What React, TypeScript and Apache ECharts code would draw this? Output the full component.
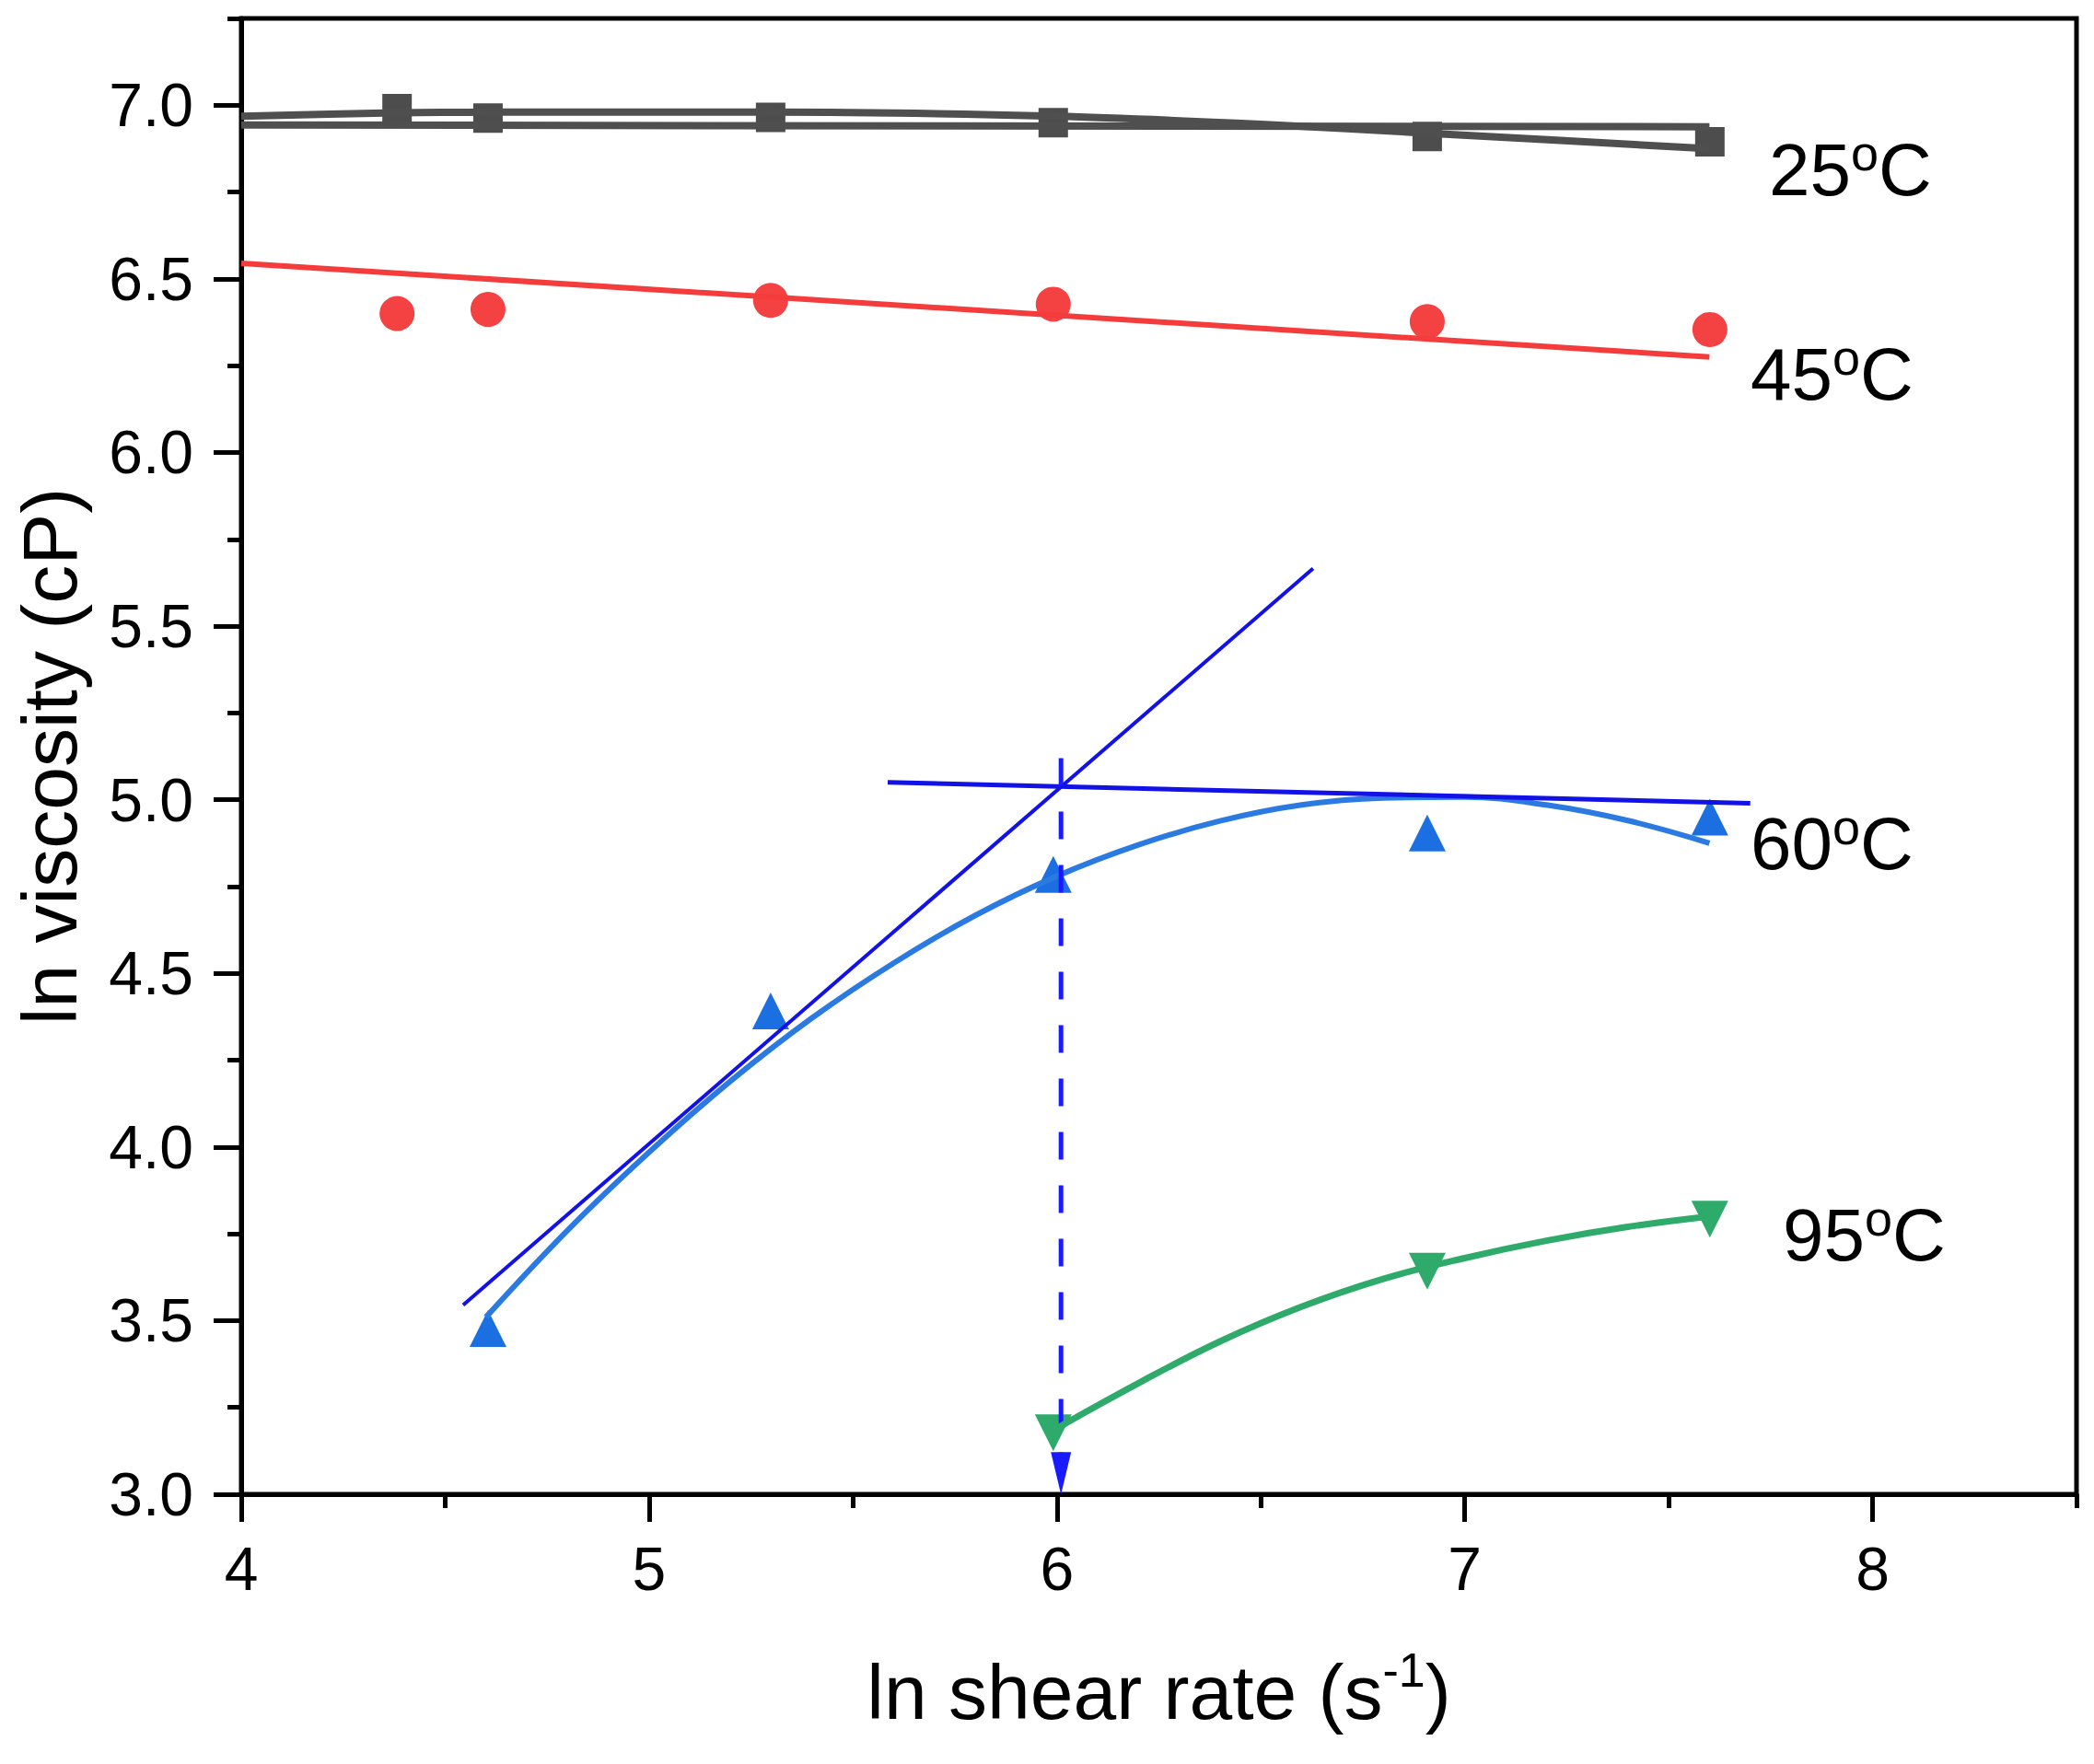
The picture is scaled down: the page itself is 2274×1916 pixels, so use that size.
import { useEffect, useRef } from 'react'
import * as echarts from 'echarts'

// measured points (ln shear rate, ln viscosity)
const shearRate = [4.382, 4.605, 5.298, 5.991, 6.908, 7.601]
const visc25 = [6.99, 6.963, 6.965, 6.95, 6.91, 6.895]
const visc45 = [6.4, 6.412, 6.438, 6.427, 6.377, 6.354]
const rate60 = [4.605, 5.298, 5.991, 6.908, 7.601]
const visc60 = [3.477, 4.392, 4.785, 4.904, 4.95]
const rate95 = [5.991, 6.908, 7.601]
const visc95 = [3.177, 3.642, 3.792]

// fitted lines
const fit25FlatX = [4.0, 7.6]
const fit25FlatY = [6.943, 6.938]
const fit25CurveX = [4.0, 4.38, 4.6, 5.3, 6.0, 6.5, 6.9, 7.6]
const fit25CurveY = [6.968, 6.978, 6.98, 6.98, 6.968, 6.945, 6.92, 6.875]
const fit45X = [4.0, 7.6]
const fit45Y = [6.545, 6.275]
const fit60X = [4.6, 4.8, 5.0, 5.2, 5.4, 5.6, 5.8, 6.0, 6.2, 6.4, 6.6, 6.8, 7.0, 7.2, 7.4, 7.6]
const fit60Y = [3.51, 3.76, 3.985, 4.19, 4.372, 4.53, 4.667, 4.78, 4.87, 4.939, 4.985, 5.005, 5.008, 4.985, 4.94, 4.875]
const fit95X = [6.0, 6.2, 6.4, 6.6, 6.8, 7.0, 7.2, 7.4, 7.6]
const fit95Y = [3.19, 3.32, 3.44, 3.54, 3.62, 3.68, 3.73, 3.77, 3.8]
const tangentLowX = [4.544, 6.628]
const tangentLowY = [3.545, 5.666]
const tangentHighX = [5.585, 7.7]
const tangentHighY = [5.05, 4.99]
const dropX = [6.01, 6.01]
const dropY = [5.12, 3.06]

const tempLabels = ['25', '45', '60', '95']

const X_MIN = 4
const X_MAX = 8.5
const Y_MIN = 3
const Y_MAX = 7.25

const W = 2274
const H = 1916
const G = { left: 262, right: 19, top: 20, bottom: 293 }

const FONT = 'Liberation Sans, Arial, sans-serif'

const zip = (xs: number[], ys: number[]) => xs.map((x, i) => [x, ys[i]])

export default function App() {
  const chartRef = useRef<HTMLDivElement | null>(null)

  useEffect(() => {
    if (!chartRef.current) {
      return
    }

    const chart = echarts.init(chartRef.current, undefined, { renderer: 'svg' })

    const unitX = (W - G.left - G.right) / (X_MAX - X_MIN)
    const unitY = (H - G.top - G.bottom) / (Y_MAX - Y_MIN)
    // second grid carries the major ticks / labels (4..8, 3..7)
    const majorGrid = {
      left: G.left,
      right: G.right + (X_MAX - 8) * unitX,
      top: G.top + (Y_MAX - 7) * unitY,
      bottom: G.bottom,
    }

    const black = { color: '#000', width: 5 }

    const labelPos = [
      [1921, 184],
      [1901, 406],
      [1901, 916],
      [1936, 1341],
    ]

    chart.setOption({
      animation: false,
      grid: [
        { ...G, show: true, borderColor: '#000', borderWidth: 5 },
        { ...majorGrid },
      ],
      xAxis: [
        {
          type: 'value',
          gridIndex: 0,
          min: X_MIN,
          max: X_MAX,
          interval: 0.5,
          axisLine: { show: true, onZero: false, lineStyle: black },
          axisTick: { show: true, length: 15, lineStyle: black },
          axisLabel: { show: false },
          splitLine: { show: false },
          name: 'ln shear rate (s{sup|-1})',
          nameLocation: 'middle',
          nameGap: 165,
          nameTextStyle: {
            fontFamily: FONT,
            fontSize: 84,
            lineHeight: 100,
            color: '#000',
            rich: {
              sup: { fontFamily: FONT, fontSize: 52, lineHeight: 76, verticalAlign: 'top', color: '#000' },
            },
          },
        },
        {
          type: 'value',
          gridIndex: 1,
          min: 4,
          max: 8,
          interval: 1,
          axisLine: { show: false, onZero: false },
          axisTick: { show: true, length: 30, lineStyle: black },
          axisLabel: { margin: 48, fontSize: 66, fontFamily: FONT, color: '#000' },
          splitLine: { show: false },
        },
      ],
      yAxis: [
        {
          type: 'value',
          gridIndex: 0,
          min: Y_MIN,
          max: Y_MAX,
          interval: 0.25,
          axisLine: { show: true, onZero: false, lineStyle: black },
          axisTick: { show: true, length: 15, lineStyle: black },
          axisLabel: { show: false },
          splitLine: { show: false },
          name: 'ln viscosity (cP)',
          nameLocation: 'middle',
          nameGap: 166,
          nameTextStyle: { fontFamily: FONT, fontSize: 84, color: '#000' },
        },
        {
          type: 'value',
          gridIndex: 1,
          min: 3,
          max: 7,
          interval: 0.5,
          axisLine: { show: false, onZero: false },
          axisTick: { show: true, length: 30, lineStyle: black },
          axisLabel: {
            margin: 52,
            fontSize: 66,
            fontFamily: FONT,
            color: '#000',
            formatter: (v: number) => v.toFixed(1),
          },
          splitLine: { show: false },
        },
      ],
      series: [
        {
          type: 'line',
          data: zip(fit25FlatX, fit25FlatY),
          symbol: 'none',
          lineStyle: { color: '#4f4f4f', width: 8 },
        },
        {
          type: 'line',
          data: zip(fit25CurveX, fit25CurveY),
          smooth: 0.3,
          symbol: 'none',
          lineStyle: { color: '#4f4f4f', width: 8 },
        },
        {
          type: 'scatter',
          data: zip(shearRate, visc25),
          symbol: 'rect',
          symbolSize: 32,
          itemStyle: { color: '#4d4d4d', opacity: 1 },
        },
        {
          type: 'line',
          data: zip(fit45X, fit45Y),
          symbol: 'none',
          lineStyle: { color: '#f43c3c', width: 6 },
        },
        {
          type: 'scatter',
          data: zip(shearRate, visc45),
          symbol: 'circle',
          symbolSize: 38,
          itemStyle: { color: '#f44242', opacity: 1 },
        },
        {
          type: 'line',
          data: zip(fit60X, fit60Y),
          smooth: 0.4,
          symbol: 'none',
          lineStyle: { color: '#2a7ae2', width: 6 },
        },
        {
          type: 'line',
          data: zip(tangentLowX, tangentLowY),
          symbol: 'none',
          lineStyle: { color: '#1212e6', width: 4 },
        },
        {
          type: 'line',
          data: zip(tangentHighX, tangentHighY),
          symbol: 'none',
          lineStyle: { color: '#1212e6', width: 5 },
        },
        {
          type: 'line',
          data: [
            { value: [dropX[0], dropY[0]], symbol: 'none' },
            { value: [dropX[1], dropY[1]], symbol: 'triangle', symbolSize: [22, 46], symbolRotate: 180 },
          ],
          showSymbol: true,
          symbol: 'triangle',
          itemStyle: { color: '#1a1aff', opacity: 1 },
          lineStyle: { color: '#1a1aff', width: 5, type: [30, 28] },
        },
        {
          type: 'scatter',
          data: zip(rate60, visc60),
          symbol: 'triangle',
          symbolSize: 40,
          itemStyle: { color: '#1c6fe0', opacity: 1 },
        },
        {
          type: 'line',
          data: zip(fit95X, fit95Y),
          smooth: 0.4,
          symbol: 'none',
          lineStyle: { color: '#2eaa6a', width: 7 },
        },
        {
          type: 'scatter',
          data: zip(rate95, visc95),
          symbol: 'triangle',
          symbolRotate: 180,
          symbolSize: 40,
          itemStyle: { color: '#2eaa6a', opacity: 1 },
        },
      ],
      graphic: tempLabels.map((t, i) => ({
        type: 'text',
        x: labelPos[i][0],
        y: labelPos[i][1],
        style: {
          text: `{n|${t}}{s|o}{n|C}`,
          verticalAlign: 'middle',
          align: 'left',
          rich: {
            n: { fontFamily: FONT, fontSize: 80, lineHeight: 90, fill: '#000' },
            s: { fontFamily: FONT, fontSize: 54, lineHeight: 54, verticalAlign: 'top', fill: '#000' },
          },
        },
      })),
    })

    return () => {
      chart.dispose()
    }
  }, [])

  return (
    <div
      ref={chartRef}
      style={{ position: 'absolute', left: 0, top: 0, width: W, height: H, background: '#fff' }}
    />
  )
}
